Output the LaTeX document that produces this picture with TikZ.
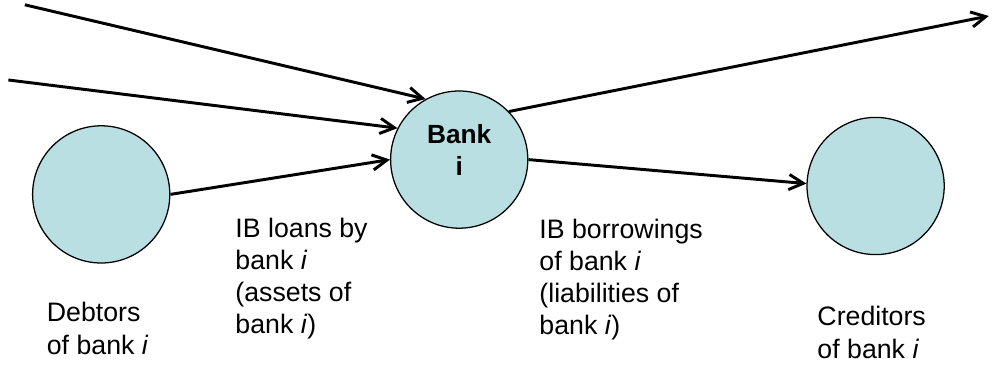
\documentclass[tikz,border=0pt]{standalone}
\usepackage{fontspec}
\setmainfont{Liberation Sans}
\usepackage{tikz}
\usetikzlibrary{shapes,arrows.meta,positioning}
\definecolor{bankfill}{RGB}{185,223,227}

\begin{document}
\begin{tikzpicture}[party/.style = {circle, draw, line width=0.9pt, fill=bankfill, minimum size=3.43cm, inner sep=0pt, align=center, font=\fontsize{18.7}{22.8}\selectfont\bfseries}, note/.style = {align=left, anchor=base west, inner sep=0pt, font=\fontsize{19}{22.8}\selectfont}, line/.style = {draw, line width=2.1pt, -{Straight Barb[length=0.36cm,width=0.38cm,line width=2.1pt]}}]
					\useasboundingbox (0,0) rectangle (24.8,9.15);
					\node[party] (debtors) at (2.53,4.29) {};
					\node[party, text depth=0.5cm] (bank) at (11.48,5.16) {Bank\\i};
					\node[party] (creditors) at (21.89,4.50) {};
					\coordinate (in1) at (0.62,9.03);
					\coordinate (in2) at (0.21,7.15);
					\coordinate (out1) at (24.72,8.75);
					
					% base anchor = baseline of the last line
					\node[note] (loans) at (5.88,0.82) {IB loans by\\bank \textit{i}\\(assets of\\bank \textit{i})};
					\node[note] (borrowings) at (13.48,0.78) {IB borrowings\\of bank \textit{i}\\(liabilities of\\bank \textit{i})};
					\node[note] (debtorstext) at (1.165,0.3) {Debtors\\of bank \textit{i}};
					\node[note] (creditorstext) at (20.43,0.2) {Creditors\\of bank \textit{i}};
					
					\path[line] (in1) -- (bank.119);
					\path[line] (in2) -- (bank.153);
					\path[line] (debtors.east) -- (bank.west);
					\path[line] (bank.44) -- (out1);
					\path[line] (bank.east) -- (creditors.178);
				\end{tikzpicture}
\end{document}
